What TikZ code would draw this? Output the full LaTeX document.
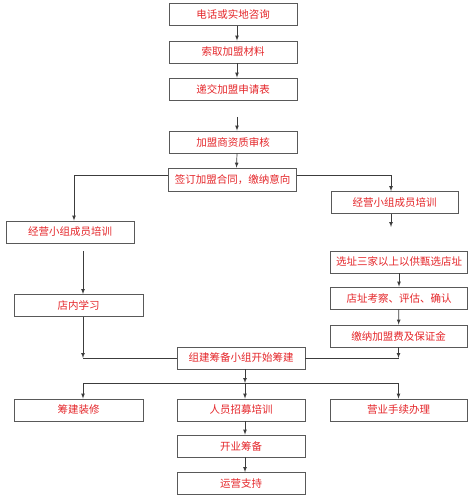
\documentclass[tikz,border=0pt]{standalone}
\usepackage{fontspec}
\setmainfont{Noto Sans CJK SC}
\definecolor{txtred}{RGB}{228,38,42}
\definecolor{linegray}{RGB}{60,60,60}
\tikzset{
  stepbox/.style={draw=linegray!85, line width=.8pt, minimum height=22pt,
    inner sep=1pt, text=txtred, font=\fontsize{10.5}{12}\selectfont},
  midbox/.style={stepbox, minimum width=128pt},
  widebox/.style={stepbox, minimum width=137pt},
  arr/.style={->, draw=linegray, line width=.7pt},
  ln/.style={draw=linegray, line width=.7pt}
}
\begin{document}
\begin{tikzpicture}[>=latex, x=1pt, y=-1pt]
\useasboundingbox (0,0) rectangle (474,500);

% main column
\node[midbox] (call)   at (233,14.5)  {电话或实地咨询};
\node[midbox] (getmat) at (233,52)    {索取加盟材料};
\node[midbox] (apply)  at (233,89)    {递交加盟申请表};
\node[midbox] (check)  at (233,142)   {加盟商资质审核};
\node[midbox, minimum height=23pt] (sign) at (232.5,179.5) {签订加盟合同，缴纳意向};

% left branch
\node[midbox] (trainL) at (70,232)    {经营小组成员培训};
\node[midbox, minimum width=129pt] (study) at (78.5,305.5) {店内学习};

% right branch
\node[midbox, minimum width=127pt] (trainR) at (394.5,202.5) {经营小组成员培训};
\node[widebox] (site)  at (399,262)   {选址三家以上以供甄选店址};
\node[widebox] (visit) at (399,298)   {店址考察、评估、确认};
\node[widebox] (fee)   at (398.5,336) {缴纳加盟费及保证金};

% joint part
\node[midbox] (team)   at (241,358)   {组建筹备小组开始筹建};
\node[midbox, minimum width=129pt] (decor) at (78.5,410) {筹建装修};
\node[midbox] (staff)  at (241,410)   {人员招募培训};
\node[widebox] (permit) at (398.5,410) {营业手续办理};
\node[midbox] (prep)   at (241,446)   {开业筹备};
\node[midbox] (run)    at (241,483.5) {运营支持};

\coordinate (gap)   at (237,117);
\coordinate (tail)  at (391,227);
\coordinate (loose) at (83,251);
\coordinate (fork)  at (245,383);
\coordinate (forkL) at (83,383);
\coordinate (forkR) at (398.5,383);

\draw[arr] ([xshift=4]call.south) -- ([xshift=4]getmat.north);
\draw[arr] ([xshift=4]getmat.south) -- ([xshift=4]apply.north);
\draw[arr] (gap) -- ([xshift=4]check.north);
\draw[arr] ([xshift=4]check.south) -- ([xshift=4]sign.north);

\draw[arr] ([yshift=4.5]sign.west) -| ([xshift=4]trainL.north);
\draw[arr] ([yshift=4.5]sign.east) -| ([xshift=-3.5]trainR.north);
\draw[arr] ([xshift=-3.5]trainR.south) -- (tail);
\draw[arr] (loose) -- ([xshift=4.5]study.north);

\draw[arr] (site) -- (visit);
\draw[arr] (visit) -- (fee);

\draw[arr] ([xshift=4.5]study.south) -- ([xshift=4.5]study.south |- team.west);
\draw[ln] ([xshift=4.5]study.south |- team.west) -- (team.west);
\draw[arr] (fee.south) -- (fee.south |- team.east);
\draw[ln] (fee.south |- team.east) -- (team.east);

\draw[arr] ([xshift=4]team.south) -- (fork);
\draw[ln] (forkL) -- (forkR);
\draw[arr] (forkL) -- ([xshift=4.5]decor.north);
\draw[arr] (fork) -- ([xshift=4]staff.north);
\draw[arr] (forkR) -- (permit.north);
\draw[arr] ([xshift=4]staff.south) -- ([xshift=4]prep.north);
\draw[arr] ([xshift=4]prep.south) -- ([xshift=4]run.north);
\end{tikzpicture}
\end{document}
